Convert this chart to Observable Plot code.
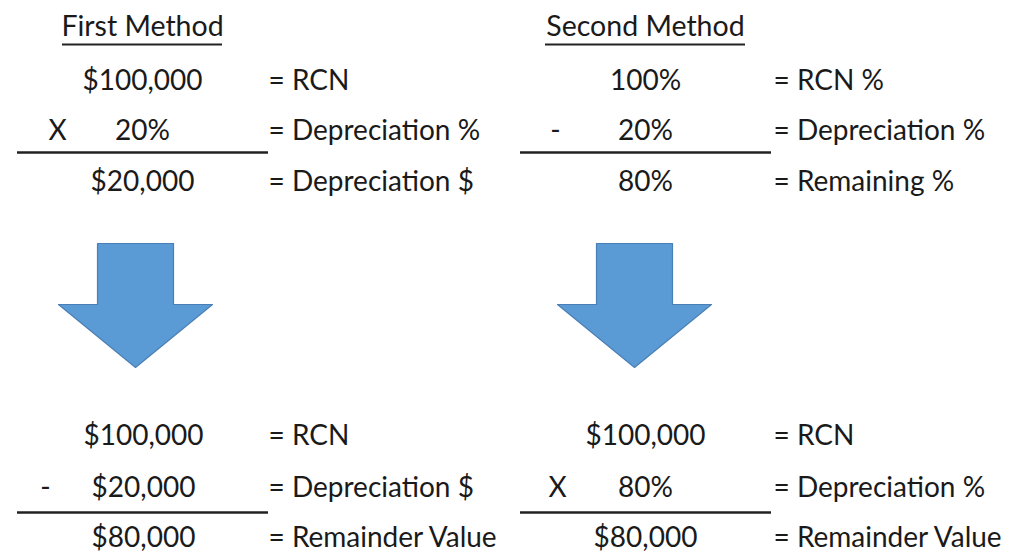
<!DOCTYPE html>
<html>
<head>
<meta charset="utf-8">
<script src="https://cdn.jsdelivr.net/npm/d3@7"></script>
<script src="https://cdn.jsdelivr.net/npm/@observablehq/plot@0.6"></script>
<style>
  html, body { margin: 0; padding: 0; background: #fff; }
  #chart svg { display: block; }
</style>
</head>
<body>
<div id="chart"></div>
<script>
// ---- content ----
const titles = ["First Method", "Second Method"];
const operators = ["X", "-", "-", "X"];           // top-left, top-right, bottom-left, bottom-right
const values = [
  ["$100,000", "20%", "$20,000"],
  ["100%", "20%", "80%"],
  ["$100,000", "$20,000", "$80,000"],
  ["$100,000", "80%", "$80,000"]
];
const labels = [
  ["= RCN", "= Depreciation %", "= Depreciation $"],
  ["= RCN %", "= Depreciation %", "= Remaining %"],
  ["= RCN", "= Depreciation $", "= Remainder Value"],
  ["= RCN", "= Depreciation %", "= Remainder Value"]
];

// ---- layout (pixel space of the 1016x555 canvas) ----
const colX = [0, 503];            // column origins
const blockRowsY = [[81, 131, 182], [81, 131, 182], [436, 488, 538], [436, 488, 538]];
const blockCol = [0, 1, 0, 1];
const valueCX = [142, 142, 143, 142];
const opX = [57, 52, 45, 54];
const labelX = 268;
const ruleY = [152, 152, 512, 512];

const textRows = [];
values.forEach((vals, b) => {
  const x0 = colX[blockCol[b]];
  vals.forEach((v, i) => {
    textRows.push({x: x0 + valueCX[b], y: blockRowsY[b][i], t: v, anchor: "middle"});
    textRows.push({x: x0 + labelX + (blockCol[b] ? 2 : 0), y: blockRowsY[b][i], t: labels[b][i], anchor: "start"});
  });
  textRows.push({x: x0 + opX[b], y: blockRowsY[b][1], t: operators[b], anchor: "middle"});
});
const valueText = textRows.filter(d => d.anchor === "middle");
const labelText = textRows.filter(d => d.anchor === "start");

const titleData = titles.map((t, i) => ({t, x: 142 + colX[i], y: 26}));
const underline = [{x1: 62, x2: 222, y: 44}, {x1: 545, x2: 745, y: 44}];
const rules = ruleY.map((y, b) => ({x1: colX[blockCol[b]] + 17, x2: colX[blockCol[b]] + 268, y}));

// arrow outline (relative to tip-centre x, top y)
function arrow(cx, top) {
  const pts = [[-38, 0], [38, 0], [38, 61], [77, 61], [0, 124], [-77, 61], [-38, 61], [-38, 0]];
  return pts.map(([dx, dy]) => ({x: cx + dx, y: top + dy}));
}
const arrows = [arrow(135, 243), arrow(634, 243)];

const font = "Lato, 'Open Sans', sans-serif";
const plot = Plot.plot({
  width: 1016,
  height: 555,
  margin: 0,
  x: {domain: [0, 1016], range: [0, 1016], axis: null},
  y: {domain: [0, 555], range: [0, 555], axis: null},
  style: {fontFamily: font, background: "#fff"},
  marks: [
    ...arrows.map(a => Plot.line(a, {x: "x", y: "y", fill: "#5b9bd5", stroke: "#4a7fb5", strokeWidth: 1.2, curve: "linear"})),
    Plot.ruleY(rules, {y: "y", x1: "x1", x2: "x2", stroke: "#222", strokeWidth: 2.5}),
    Plot.ruleY(underline, {y: "y", x1: "x1", x2: "x2", stroke: "#222", strokeWidth: 2}),
    Plot.text(titleData, {x: "x", y: "y", text: "t", fontSize: 28.5, fill: "#1a1a1a", textAnchor: "middle"}),
    Plot.text(valueText, {x: "x", y: "y", text: "t", fontSize: 28, fill: "#1a1a1a", textAnchor: "middle"}),
    Plot.text(labelText, {x: "x", y: "y", text: "t", fontSize: 28, fill: "#1a1a1a", textAnchor: "start"})
  ]
});
document.getElementById("chart").appendChild(plot);
</script>
</body>
</html>
